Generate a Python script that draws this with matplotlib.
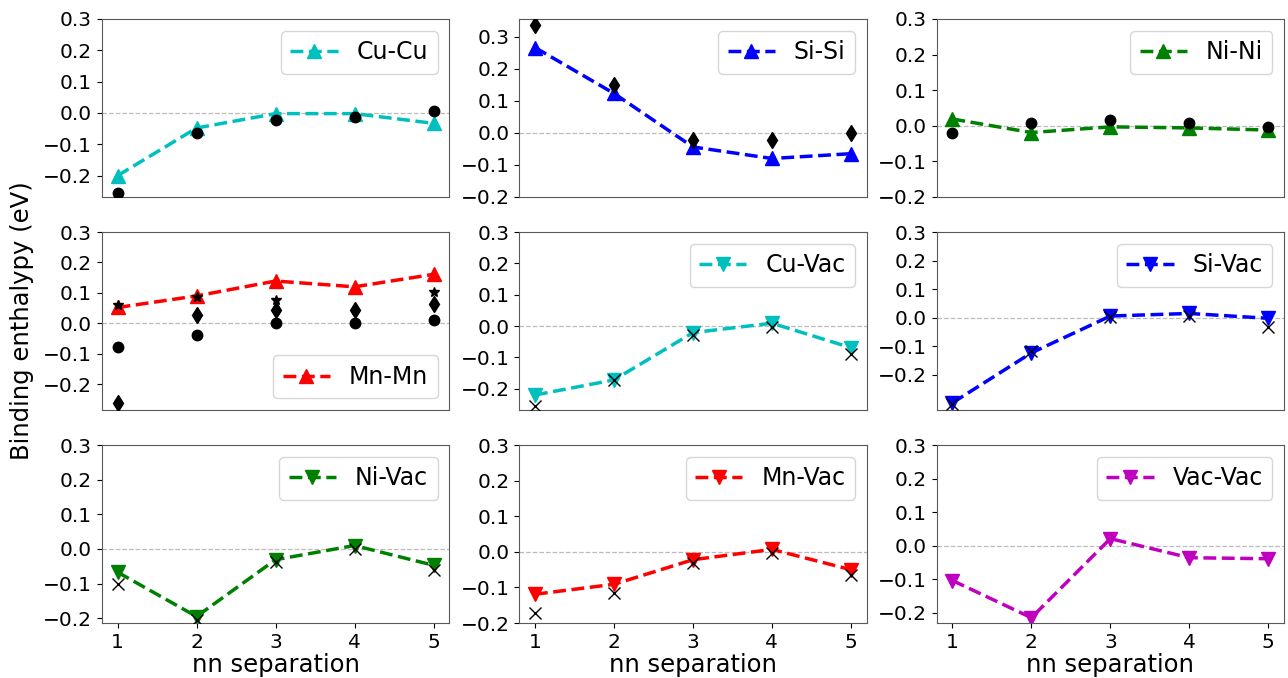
import numpy as np
import matplotlib
matplotlib.use("Agg")
from matplotlib import pyplot as plt

nn = [1, 2, 3, 4, 5]
nan = np.nan

names = ["Cu-Cu", "Si-Si", "Ni-Ni",
         "Mn-Mn", "Cu-Vac", "Si-Vac",
         "Ni-Vac", "Mn-Vac", "Vac-Vac"]
colors = ["c", "b", "g", "r", "c", "b", "g", "r", "m"]
markers = ["^", "^", "^", "^", "v", "v", "v", "v", "v"]

# fitted model values
cu_cu = [-0.200, -0.048, -0.002, -0.002, -0.033]
si_si = [0.266, 0.123, -0.044, -0.080, -0.065]
ni_ni = [0.019, -0.019, -0.003, -0.006, -0.012]
mn_mn = [0.052, 0.090, 0.139, 0.120, 0.161]
cu_vac = [-0.220, -0.172, -0.021, 0.009, -0.069]
si_vac = [-0.298, -0.123, 0.006, 0.015, -0.002]
ni_vac = [-0.067, -0.195, -0.031, 0.010, -0.047]
mn_vac = [-0.119, -0.091, -0.022, 0.007, -0.050]
vac_vac = [-0.104, -0.215, 0.021, -0.036, -0.039]
model = [cu_cu, si_si, ni_ni, mn_mn, cu_vac, si_vac, ni_vac, mn_vac, vac_vac]

# reference (DFT) values, black markers
ref_cu_cu = [-0.255, -0.063, -0.021, -0.014, 0.005]
ref_si_si = [0.335, 0.149, -0.023, -0.021, 0.000]
ref_ni_ni = [-0.020, 0.007, 0.016, 0.007, -0.004]
ref_mn_dot = [-0.079, -0.038, 0.000, 0.000, 0.012]
ref_mn_dia = [-0.263, 0.027, 0.043, 0.043, 0.062]
ref_mn_star = [0.061, 0.087, 0.077, nan, 0.103]
ref_cu_vac = [-0.255, -0.172, -0.027, -0.002, -0.089]
ref_si_vac = [-0.303, -0.117, 0.003, 0.007, -0.034]
ref_ni_vac = [-0.102, -0.206, -0.039, 0.000, -0.060]
ref_mn_vac = [-0.173, -0.115, -0.031, -0.003, -0.066]

refs = [
  [(ref_cu_cu, "o")],
  [(ref_si_si, "d")],
  [(ref_ni_ni, "o")],
  [(ref_mn_dot, "o"), (ref_mn_dia, "d"), (ref_mn_star, "*")],
  [(ref_cu_vac, "x")],
  [(ref_si_vac, "x")],
  [(ref_ni_vac, "x")],
  [(ref_mn_vac, "x")],
  [],
]

ylims = [(-0.268, 0.3), (-0.2, 0.355), (-0.2, 0.3),
         (-0.285, 0.3), (-0.268, 0.3), (-0.323, 0.3),
         (-0.214, 0.3), (-0.2, 0.3), (-0.231, 0.3)]
legend_locs = ["upper right"] * 9
legend_locs[3] = "lower right"

ref_size = {"o": 7.5, "d": 8.5, "*": 7, "x": 8.5}


def main():
  fig, axes = plt.subplots(3, 3, figsize=(12.88, 6.78), dpi=100)
  fig.subplots_adjust(left=0.079, right=0.997, top=0.972, bottom=0.081,
                      wspace=0.201, hspace=0.197)

  for i, ax in enumerate(axes.flat):
    ax.axhline(0, color="#bbbbbb", lw=0.9, ls="--", zorder=1)
    ax.plot(nn, model[i], ls="--", color=colors[i], marker=markers[i],
            lw=2.5, ms=10, label=names[i], zorder=2)
    for vals, m in refs[i]:
      if m == "x":
        ax.plot(nn, vals, ls="none", marker="x", color="k", ms=ref_size[m],
                mew=1.0, zorder=3)
      else:
        ax.plot(nn, vals, ls="none", marker=m, color="k", ms=ref_size[m],
                zorder=3)

    ax.set_xlim(0.8, 5.2)
    ax.set_ylim(*ylims[i])
    ax.set_yticks([-0.2, -0.1, 0.0, 0.1, 0.2, 0.3])
    ax.tick_params(labelsize=14.5)
    for s in ax.spines.values():
      s.set_color("0.35")

    if i < 6:
      ax.set_xticks([])
    else:
      ax.set_xticks(nn)
      ax.set_xlabel("nn separation", fontsize=17.5, labelpad=1)

    ax.legend(loc=legend_locs[i], fontsize=17, numpoints=1)

  fig.text(0.017, 0.527, "Binding enthalypy (eV)", rotation=90,
           va="center", ha="center", fontsize=17.5)

  fig.savefig("out.png", dpi=100)


main()
